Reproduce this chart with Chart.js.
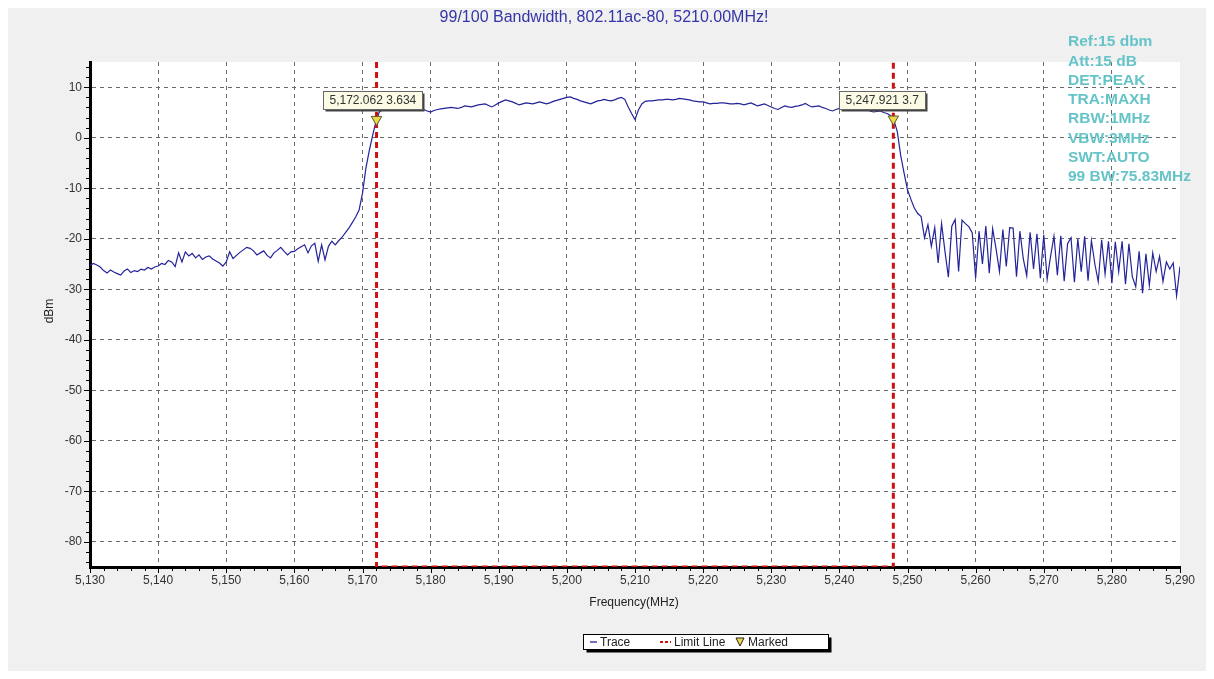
<!DOCTYPE html>
<html>
<head>
<meta charset="utf-8">
<script src="https://cdn.jsdelivr.net/npm/chart.js@4.4.1/dist/chart.umd.min.js"></script>
<style>
  html, body { margin: 0; padding: 0; background: #ffffff; }
  #wrap { width: 1214px; height: 679px; position: relative; }
  canvas { display: block; }
</style>
</head>
<body>
<div id="wrap"><canvas id="c" width="1214" height="679"></canvas></div>
<script>
// ---------------- DATA ----------------
const chartTitle = '99/100 Bandwidth, 802.11ac-80, 5210.00MHz!';
const infoLines = ['Ref:15 dbm', 'Att:15 dB', 'DET:PEAK', 'TRA:MAXH', 'RBW:1MHz', 'VBW:3MHz', 'SWT:AUTO', '99 BW:75.83MHz'];
const xTicks = [5130, 5140, 5150, 5160, 5170, 5180, 5190, 5200, 5210, 5220, 5230, 5240, 5250, 5260, 5270, 5280, 5290];
const yTicks = [10, 0, -10, -20, -30, -40, -50, -60, -70, -80];
const xTitle = 'Frequency(MHz)';
const yTitle = 'dBm';

// sweep: 5130 MHz .. 5290 MHz, one reading every 0.5 MHz
const sweepStart = 5130;
const sweepStep = 0.5;
const traceDbm = [
  // 5130 - 5139.5
  -25.3, -24.9, -25.2, -25.6, -26.3, -26.8, -26.2, -26.6, -26.9, -27.2, -26.4, -26.0, -26.7, -26.3, -26.5, -26.0, -26.2, -25.7, -26.0, -25.6,
  // 5140 - 5149.5
  -25.4, -24.9, -25.1, -24.3, -24.6, -25.5, -22.8, -24.6, -22.6, -23.4, -22.9, -23.8, -23.2, -24.1, -23.6, -23.4, -24.0, -24.4, -24.8, -25.4,
  // 5150 - 5159.5
  -24.6, -22.6, -23.9, -23.3, -22.7, -22.2, -21.7, -21.9, -22.4, -23.2, -22.8, -22.4, -23.3, -23.8, -22.8, -22.3, -21.7, -22.5, -23.2, -22.6,
  // 5160 - 5169.5
  -22.5, -22.0, -21.6, -21.2, -22.8, -21.4, -20.9, -24.5, -21.2, -24.2, -21.5, -20.5, -21.2, -20.4, -19.7, -18.8, -17.9, -16.8, -15.7, -14.3,
  // 5170 - 5179.5
  -11.0, -6.0, -2.5, 0.5, 3.4, 5.2, 5.5, 5.7, 5.6, 5.9, 5.8, 5.6, 5.5, 5.7, 5.8, 6.1, 6.0, 5.8, 5.6, 5.3,
  // 5180 - 5189.5
  5.1, 5.4, 5.6, 5.7, 5.8, 5.9, 6.0, 5.9, 5.8, 6.0, 6.3, 6.2, 6.1, 6.3, 6.5, 6.6, 6.7, 6.4, 6.1, 6.5,
  // 5190 - 5199.5
  6.9, 7.2, 7.5, 7.3, 7.1, 6.8, 6.5, 6.7, 6.9, 6.8, 6.7, 6.9, 7.1, 6.9, 6.7, 6.9, 7.2, 7.4, 7.6, 7.8,
  // 5200 - 5209.5
  8.0, 8.1, 7.8, 7.6, 7.3, 7.1, 6.9, 6.7, 7.0, 7.3, 7.4, 7.6, 7.4, 7.3, 7.5, 7.8, 8.0, 7.6, 6.1, 4.8,
  // 5210 - 5219.5
  3.6, 5.5, 6.7, 7.2, 7.3, 7.3, 7.4, 7.5, 7.5, 7.6, 7.6, 7.5, 7.6, 7.8, 7.7, 7.6, 7.5, 7.3, 7.2, 7.1,
  // 5220 - 5229.5
  7.1, 6.9, 6.7, 6.8, 6.8, 6.9, 6.9, 6.8, 6.7, 6.7, 6.8, 6.7, 6.5, 6.7, 6.9, 6.6, 6.3, 6.5, 6.7, 6.4,
  // 5230 - 5239.5
  6.1, 5.8, 5.6, 6.0, 6.3, 6.1, 6.0, 6.2, 6.3, 6.5, 6.8, 6.4, 6.1, 6.2, 6.3, 6.0, 5.8, 5.5, 5.3, 5.6,
  // 5240 - 5249.5
  5.8, 5.9, 6.0, 5.9, 5.8, 5.6, 5.5, 5.6, 5.6, 5.3, 5.1, 5.2, 5.3, 5.0, 4.8, 4.4, 3.5, 1.2, -3.5, -7.0,
  // 5250 - 5259.5
  -10.3, -12.2, -13.9, -15.0, -15.6, -19.8, -17.2, -21.5, -17.8, -24.8, -17.0, -22.5, -27.6, -17.5, -16.2, -26.5, -16.3, -17.0, -17.6, -18.8,
  // 5260 - 5269.5
  -27.8, -18.5, -25.0, -17.5, -26.8, -18.0, -22.0, -26.5, -18.2, -25.5, -17.8, -17.9, -27.5, -18.5, -24.0, -27.3, -18.7, -26.0, -19.0, -27.8,
  // 5270 - 5279.5
  -19.2, -28.0, -23.5, -19.5, -27.2, -19.4, -28.4, -21.0, -19.8, -28.6, -20.0, -26.5, -19.5, -28.3, -20.4, -25.0, -28.5, -20.2, -27.0, -20.5,
  // 5280 - 5290
  -28.8, -20.6, -26.5, -20.5, -29.0, -21.0, -27.5, -29.5, -22.5, -30.8, -23.0, -29.2, -22.8, -26.5, -23.5, -28.5, -24.6, -26.0, -24.8, -31.3, -25.5
];

const limitFreq = [5172.062, 5172.062, 5247.921, 5247.921];
const limitDbm  = [15, -85, -85, 15];

const markerFreq = [5172.062, 5247.921];
const markerDbm  = [3.634, 3.7];

const legendLabels = ['Trace', 'Limit Line', 'Marked'];

// ---------------- BUILD ----------------
const tracePts = traceDbm.map((v, i) => ({ x: sweepStart + i * sweepStep, y: v }));
const limitPts = limitFreq.map((f, i) => ({ x: f, y: limitDbm[i] }));
const markerPts = markerFreq.map((f, i) => ({ x: f, y: markerDbm[i] }));

const FONT = '"Liberation Sans", Arial, Helvetica, sans-serif';
const TRACE_COLOR = '#23239a';
const LIMIT_COLOR = '#cc1111';
const MARK_FILL = '#ecd84a';
const MARK_EDGE = '#5a5a2a';

function fmtFreq(f) {
  return f.toLocaleString('en-US', { minimumFractionDigits: 3, maximumFractionDigits: 3 });
}

const deco = {
  id: 'deco',
  beforeDraw(chart) {
    const { ctx, chartArea: a, width, height } = chart;
    ctx.save();
    ctx.fillStyle = '#ffffff';
    ctx.fillRect(0, 0, width, height);
    ctx.fillStyle = '#f0f0f0';
    ctx.fillRect(8, 8, width - 16, height - 16);
    ctx.fillStyle = '#ffffff';
    ctx.fillRect(a.left, a.top, a.right - a.left, a.bottom - a.top);
    ctx.restore();
  },
  afterDraw(chart) {
    const { ctx, chartArea: a, scales } = chart;
    const xs = scales.x, ys = scales.y;
    ctx.save();

    // minor / major ticks outside the axes
    ctx.strokeStyle = '#000';
    ctx.lineWidth = 1;
    ctx.beginPath();
    for (let f = 5130; f <= 5290; f += 2) {
      const px = Math.round(xs.getPixelForValue(f)) + 0.5;
      const len = (f % 10 === 0) ? 5 : 3;
      ctx.moveTo(px, a.bottom + 1);
      ctx.lineTo(px, a.bottom + 1 + len);
    }
    for (let v = -84; v <= 14; v += 2) {
      const py = Math.round(ys.getPixelForValue(v)) + 0.5;
      const len = (v % 10 === 0) ? 5 : 3;
      ctx.moveTo(a.left - 1, py);
      ctx.lineTo(a.left - 1 - len, py);
    }
    ctx.stroke();

    // title
    ctx.fillStyle = '#3535a8';
    ctx.font = '16px ' + FONT;
    ctx.textAlign = 'center';
    ctx.textBaseline = 'middle';
    ctx.fillText(chartTitle, 604, 18);

    // info block
    ctx.fillStyle = '#66c4c9';
    ctx.font = 'bold 15.5px ' + FONT;
    ctx.textAlign = 'left';
    infoLines.forEach((t, i) => ctx.fillText(t, 1068, 42 + i * 19.3));

    // axis titles
    ctx.fillStyle = '#222';
    ctx.font = '12px ' + FONT;
    ctx.textAlign = 'center';
    ctx.fillText(xTitle, 634, 603);
    ctx.save();
    ctx.translate(50, 311);
    ctx.rotate(-Math.PI / 2);
    ctx.fillText(yTitle, 0, 0);
    ctx.restore();

    // marker value boxes
    ctx.font = '12px ' + FONT;
    markerPts.forEach((p, i) => {
      const px = xs.getPixelForValue(p.x);
      const py = ys.getPixelForValue(p.y);
      const label = fmtFreq(p.x) + ' ' + String(markerDbm[i]);
      const w = Math.ceil(ctx.measureText(label).width) + 12;
      const h = 18;
      const bx = Math.round(px - 54) + 0.5;
      const by = Math.round(py - 28) + 0.5;
      ctx.fillStyle = '#444';
      ctx.fillRect(bx + 2, by + 2, w, h);
      ctx.fillStyle = '#fbfbe6';
      ctx.fillRect(bx, by, w, h);
      ctx.strokeStyle = '#666';
      ctx.lineWidth = 1;
      ctx.strokeRect(bx, by, w, h);
      ctx.fillStyle = '#333';
      ctx.textAlign = 'left';
      ctx.textBaseline = 'middle';
      ctx.fillText(label, bx + 6, by + h / 2 + 0.5);
    });

    // legend
    const lx = 583.5, ly = 634.5, lw = 245, lh = 15;
    ctx.fillStyle = '#000';
    ctx.fillRect(lx + 3, ly + 3, lw, lh);
    ctx.fillStyle = '#fff';
    ctx.fillRect(lx, ly, lw, lh);
    ctx.strokeStyle = '#000';
    ctx.lineWidth = 1;
    ctx.strokeRect(lx, ly, lw, lh);
    const cy = ly + lh / 2;
    ctx.font = '12px ' + FONT;
    ctx.textAlign = 'left';
    ctx.textBaseline = 'middle';
    // Trace
    ctx.strokeStyle = TRACE_COLOR;
    ctx.lineWidth = 1.3;
    ctx.beginPath(); ctx.moveTo(590, cy); ctx.lineTo(597, cy); ctx.stroke();
    ctx.fillStyle = '#222';
    ctx.fillText(legendLabels[0], 600, cy + 0.5);
    // Limit line
    ctx.strokeStyle = LIMIT_COLOR;
    ctx.lineWidth = 2;
    ctx.setLineDash([3, 2]);
    ctx.beginPath(); ctx.moveTo(660, cy); ctx.lineTo(671, cy); ctx.stroke();
    ctx.setLineDash([]);
    ctx.fillStyle = '#222';
    ctx.fillText(legendLabels[1], 674, cy + 0.5);
    // Marked
    ctx.fillStyle = MARK_FILL;
    ctx.strokeStyle = '#222';
    ctx.lineWidth = 1;
    ctx.beginPath();
    ctx.moveTo(736, cy - 4); ctx.lineTo(744, cy - 4); ctx.lineTo(740, cy + 4); ctx.closePath();
    ctx.fill(); ctx.stroke();
    ctx.fillStyle = '#222';
    ctx.fillText(legendLabels[2], 748, cy + 0.5);

    ctx.restore();
  }
};

new Chart(document.getElementById('c'), {
  type: 'scatter',
  data: {
    datasets: [
      {
        label: legendLabels[2],
        data: markerPts,
        showLine: false,
        pointStyle: 'triangle',
        rotation: 180,
        pointRadius: 6,
        backgroundColor: MARK_FILL,
        borderColor: MARK_EDGE,
        borderWidth: 1,
        order: 0
      },
      {
        label: legendLabels[1],
        data: limitPts,
        showLine: true,
        borderColor: LIMIT_COLOR,
        borderWidth: 3,
        borderDash: [6, 4],
        pointRadius: 0,
        fill: false,
        tension: 0,
        order: 1
      },
      {
        label: legendLabels[0],
        data: tracePts,
        showLine: true,
        borderColor: TRACE_COLOR,
        borderWidth: 1.2,
        pointRadius: 0,
        fill: false,
        tension: 0,
        order: 2
      }
    ]
  },
  options: {
    responsive: false,
    animation: false,
    events: [],
    layout: { padding: { left: 0, right: 34, top: 62, bottom: 0 } },
    plugins: {
      legend: { display: false },
      tooltip: { enabled: false },
      title: { display: false }
    },
    scales: {
      x: {
        type: 'linear',
        min: 5130,
        max: 5290,
        afterFit(scale) { scale.height = 112; },
        afterBuildTicks(scale) { scale.ticks = xTicks.map(v => ({ value: v })); },
        ticks: {
          padding: 6,
          color: '#333',
          font: { family: FONT, size: 12 },
          maxRotation: 0,
          autoSkip: false,
          callback: (v) => Number(v).toLocaleString('en-US')
        },
        grid: {
          drawTicks: false,
          lineWidth: 1,
          color: (c) => (c.tick && (c.tick.value === 5290 || c.tick.value === 5130)) ? 'rgba(0,0,0,0)' : '#6a6a6a'
        },
        border: { display: true, color: '#000', width: 3, dash: [4, 4] }
      },
      y: {
        type: 'linear',
        min: -85,
        max: 15,
        afterFit(scale) { scale.width = 90; },
        afterBuildTicks(scale) { scale.ticks = yTicks.slice().reverse().map(v => ({ value: v })); },
        ticks: {
          padding: 8,
          color: '#333',
          font: { family: FONT, size: 12 },
          autoSkip: false
        },
        grid: {
          drawTicks: false,
          lineWidth: 1,
          color: '#6a6a6a'
        },
        border: { display: true, color: '#000', width: 3, dash: [4, 4] }
      }
    }
  },
  plugins: [deco]
});
</script>
</body>
</html>
